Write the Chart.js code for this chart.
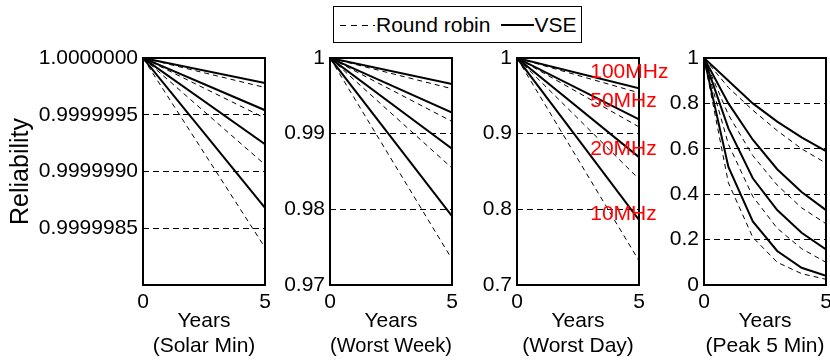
<!DOCTYPE html>
<html>
<head>
<meta charset="utf-8">
<script src="https://cdn.jsdelivr.net/npm/chart.js@4/dist/chart.umd.min.js"></script>
<style>
	body { margin: 0; background: #fff; }
	#wrap { position: relative; width: 830px; height: 361px; overflow: hidden; font-family: "Liberation Sans", Arial, sans-serif; }
	#wrap canvas { position: absolute; left: 0; top: 0; }
	#legend { position: absolute; left: 333px; top: 6px; width: 249px; height: 37px; border: 1px solid #000; background: #fff;
		display: flex; align-items: center; font-size: 21px; padding-left: 6px; box-sizing: border-box; white-space: nowrap; }
	#legend svg { display: block; }
</style>
</head>
<body>
<div id="wrap">
	<canvas id="p1" width="830" height="361"></canvas>
	<canvas id="p2" width="830" height="361"></canvas>
	<canvas id="p3" width="830" height="361"></canvas>
	<canvas id="p4" width="830" height="361"></canvas>
	<div id="legend">
		<svg width="35" height="10"><line x1="0" y1="5.5" x2="35" y2="5.5" stroke="#000" stroke-width="1" stroke-dasharray="6,5"></line></svg>
		<span style="margin-left:1px">Round robin</span>
		<svg width="33" height="10" style="margin-left:11px"><line x1="0" y1="5" x2="33" y2="5" stroke="#000" stroke-width="2"></line></svg>
		<span>VSE</span>
	</div>
</div>
<script>
var years = [0, 5]
var years5min = [0, 1, 2, 3, 4, 5]

// round robin (dashed) and VSE (solid), 100/50/20/10 MHz
var solarMinRR = [[1, 0.99999974], [1, 0.99999947], [1, 0.99999906], [1, 0.99999833]]
var solarMinVSE = [[1, 0.99999978], [1, 0.99999954], [1, 0.99999924], [1, 0.99999868]]
var worstWeekRR = [[1, 0.99594], [1, 0.99161], [1, 0.98545], [1, 0.97341]]
var worstWeekVSE = [[1, 0.99656], [1, 0.9928], [1, 0.988], [1, 0.9791]]
var worstDayRR = [[1, 0.954], [1, 0.909], [1, 0.84], [1, 0.732]]
var worstDayVSE = [[1, 0.960], [1, 0.919], [1, 0.869], [1, 0.786]]
var peak5RR = [
	[1, 0.87, 0.77, 0.68, 0.60, 0.537],
	[1, 0.75, 0.57, 0.44, 0.34, 0.27],
	[1, 0.62, 0.39, 0.25, 0.16, 0.10],
	[1, 0.45, 0.21, 0.10, 0.05, 0.025]
]
var peak5VSE = [
	[1, 0.90, 0.80, 0.72, 0.65, 0.59],
	[1, 0.80, 0.64, 0.51, 0.41, 0.33],
	[1, 0.69, 0.47, 0.33, 0.23, 0.157],
	[1, 0.52, 0.28, 0.15, 0.076, 0.04]
]

var solarMinTicks = [0.9999985, 0.999999, 0.9999995, 1]
var solarMinTickLabels = ['0.9999985', '0.9999990', '0.9999995', '1.0000000']
var worstWeekTicks = [0.97, 0.98, 0.99, 1]
var worstWeekTickLabels = ['0.97', '0.98', '0.99', '1']
var worstDayTicks = [0.7, 0.8, 0.9, 1]
var worstDayTickLabels = ['0.7', '0.8', '0.9', '1']
var peak5Ticks = [0, 0.2, 0.4, 0.6, 0.8, 1]
var peak5TickLabels = ['0', '0.2', '0.4', '0.6', '0.8', '1']

var mhzLabels = ['100MHz', '50MHz', '20MHz', '10MHz']
var mhzLabelYears = 3.0
var mhzLabelValues = [0.981, 0.943, 0.88, 0.794]

Chart.defaults.font.family = '"Liberation Sans", Arial, sans-serif'
Chart.defaults.font.size = 21
Chart.defaults.color = '#000'

var framePlugin = {
	id: 'frame',
	afterDraw: function (chart) {
		var a = chart.chartArea, ctx = chart.ctx
		ctx.save()
		ctx.strokeStyle = '#000'
		ctx.lineWidth = 2
		ctx.strokeRect(a.left, a.top, a.right - a.left, a.bottom - a.top)
		ctx.restore()
	}
}

var mhzPlugin = {
	id: 'mhz',
	afterDraw: function (chart) {
		var ctx = chart.ctx, xs = chart.scales.x, ys = chart.scales.y
		ctx.save()
		ctx.font = '21px "Liberation Sans", Arial, sans-serif'
		ctx.fillStyle = '#ff0000'
		ctx.textAlign = 'left'
		ctx.textBaseline = 'middle'
		mhzLabels.forEach(function (t, i) {
			ctx.fillText(t, xs.getPixelForValue(mhzLabelYears), ys.getPixelForValue(mhzLabelValues[i]))
		})
		ctx.restore()
	}
}

function makeDatasets(xs, rr, vse) {
	var sets = []
	rr.forEach(function (s) {
		sets.push({
			data: s.map(function (v, i) { return {x: xs[i], y: v} }),
			borderColor: '#000', borderWidth: 1, borderDash: [5, 4], pointRadius: 0, fill: false
		})
	})
	vse.forEach(function (s) {
		sets.push({
			data: s.map(function (v, i) { return {x: xs[i], y: v} }),
			borderColor: '#000', borderWidth: 2, pointRadius: 0, fill: false
		})
	})
	return sets
}

function initPanel(id, xs, rr, vse, ticks, tickLabels, ymin, xTitle, left, right, yWidth, yTitle, extra) {
	return new Chart(document.getElementById(id), {
		type: 'line',
		data: { datasets: makeDatasets(xs, rr, vse) },
		options: {
			responsive: false,
			animation: false,
			layout: { padding: { left: left - yWidth, right: 830 - right, top: 58, bottom: 0 } },
			plugins: { legend: { display: false }, tooltip: { enabled: false } },
			scales: {
				x: {
					type: 'linear', min: 0, max: 5,
					afterBuildTicks: function (s) { s.ticks = [{value: 0}, {value: 5}] },
					afterFit: function (s) { s.height = 76; s.paddingLeft = 0; s.paddingRight = 0 },
					grid: { display: false, drawTicks: false },
					border: { display: false },
					ticks: { padding: 5, maxRotation: 0, callback: function (v) { return String(v) } },
					title: { display: true, text: ['Years', xTitle], padding: { top: 0, bottom: 2 } }
				},
				y: {
					type: 'linear', min: ymin, max: 1,
					afterBuildTicks: function (s) { s.ticks = ticks.map(function (v) { return {value: v} }) },
					afterFit: function (s) { s.width = yWidth; s.paddingTop = 0; s.paddingBottom = 0 },
					grid: { color: '#000', lineWidth: 1, drawTicks: false },
					border: { display: false, dash: [6, 4] },
					ticks: { padding: 5, callback: function (v, i) { return tickLabels[i] } },
					title: { display: !!yTitle, text: yTitle || '', font: { size: 25 }, padding: { top: 3, bottom: 0 } }
				}
			}
		},
		plugins: extra ? [framePlugin, extra] : [framePlugin]
	})
}

initPanel('p1', years, solarMinRR, solarMinVSE, solarMinTicks, solarMinTickLabels, 0.999998, '(Solar Min)', 143, 265, 140, 'Reliability')
initPanel('p2', years, worstWeekRR, worstWeekVSE, worstWeekTicks, worstWeekTickLabels, 0.97, '(Worst Week)', 330, 452, 100)
initPanel('p3', years, worstDayRR, worstDayVSE, worstDayTicks, worstDayTickLabels, 0.7, '(Worst Day)', 517, 639, 100, null, mhzPlugin)
initPanel('p4', years5min, peak5RR, peak5VSE, peak5Ticks, peak5TickLabels, 0, '(Peak 5 Min)', 704, 826, 100)
</script>
</body>
</html>
